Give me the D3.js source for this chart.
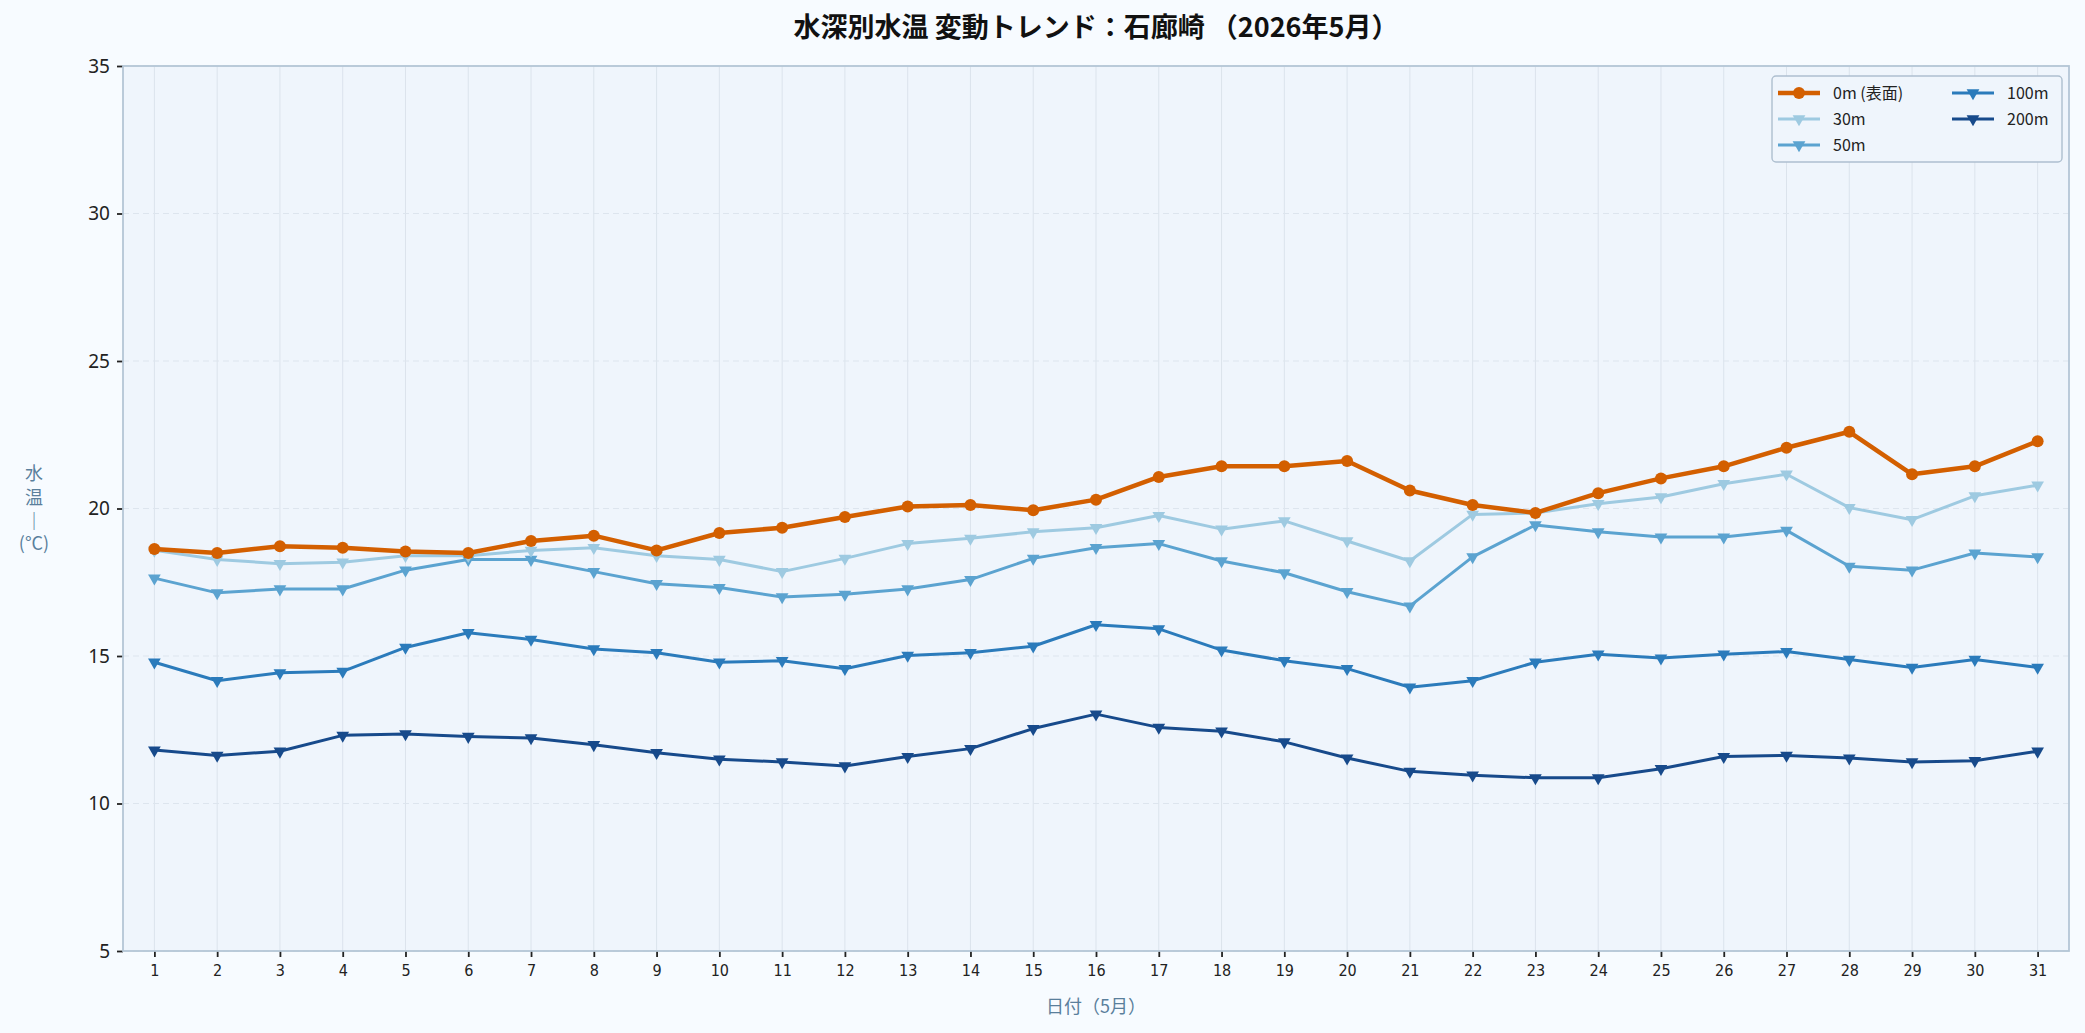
<!DOCTYPE html>
<html>
<head>
<meta charset="utf-8">
<script src="https://cdn.jsdelivr.net/npm/d3@7"></script>
<style>
  body { margin: 0; background: #f7fbff; }
  svg { display: block; }
</style>
</head>
<body>
<div id="chart"></div>
<script>
// data
const days = d3.range(1, 32);
const depthNames = ["0m (表面)", "30m", "50m", "100m", "200m"];
const depthColors = ["#d35f00", "#9ecae1", "#5ba3d0", "#2b7bbb", "#174a8b"];
const yTicks = [5, 10, 15, 20, 25, 30, 35];

const temp0 = [18.63, 18.49, 18.72, 18.67, 18.54, 18.49, 18.90, 19.08, 18.58, 19.17,
    19.35, 19.71, 20.07, 20.12, 19.94, 20.30, 21.07, 21.43, 21.43, 21.61,
    20.61, 20.12, 19.85, 20.52, 21.02, 21.43, 22.06, 22.60, 21.16, 21.43, 22.28];
const temp30 = [18.58, 18.27, 18.13, 18.18, 18.40, 18.40, 18.58, 18.67, 18.40, 18.27,
    17.86, 18.31, 18.81, 18.99, 19.21, 19.35, 19.76, 19.30, 19.58, 18.90,
    18.22, 19.80, 19.85, 20.16, 20.39, 20.84, 21.16, 20.03, 19.62, 20.43, 20.79];
const temp50 = [17.64, 17.14, 17.27, 17.27, 17.91, 18.27, 18.27, 17.86, 17.45, 17.32,
    17.00, 17.09, 17.27, 17.59, 18.31, 18.67, 18.81, 18.22, 17.82, 17.18,
    16.69, 18.36, 19.44, 19.21, 19.03, 19.03, 19.26, 18.04, 17.91, 18.49, 18.36];
const temp100 = [14.79, 14.16, 14.43, 14.48, 15.29, 15.79, 15.56, 15.24, 15.11, 14.79,
    14.84, 14.57, 15.02, 15.11, 15.33, 16.06, 15.92, 15.20, 14.84, 14.57,
    13.94, 14.16, 14.79, 15.06, 14.93, 15.06, 15.15, 14.88, 14.61, 14.88, 14.61];
const temp200 = [11.81, 11.63, 11.77, 12.31, 12.36, 12.27, 12.22, 11.99, 11.72, 11.50,
    11.41, 11.27, 11.59, 11.86, 12.54, 13.03, 12.58, 12.45, 12.09, 11.54,
    11.09, 10.96, 10.87, 10.87, 11.18, 11.59, 11.63, 11.54, 11.41, 11.45, 11.77];

const allTemps = [temp0, temp30, temp50, temp100, temp200];

// layout
const W = 2085, H = 1033;
const margin = {top: 66, right: 16, bottom: 82, left: 123};
const width = W - margin.left - margin.right;
const height = H - margin.top - margin.bottom;
const font = "'Noto Sans CJK JP', 'Noto Sans', sans-serif";

const svg = d3.select("#chart").append("svg")
    .attr("width", W)
    .attr("height", H);

svg.append("rect").attr("width", W).attr("height", H).attr("fill", "#f7fbff");

const g = svg.append("g")
    .attr("transform", "translate(" + margin.left + "," + margin.top + ")");

// plot background
g.append("rect")
    .attr("width", width)
    .attr("height", height)
    .attr("fill", "#eff5fc");

// scales
const x = d3.scaleLinear().domain([0.5, 31.5]).range([0, width]);
const y = d3.scaleLinear().domain([5, 35]).range([height, 0]);

// vertical grid
g.append("g")
    .selectAll("line")
    .data(days)
    .join("line")
    .attr("x1", d => x(d)).attr("x2", d => x(d))
    .attr("y1", 0).attr("y2", height)
    .attr("stroke", "#dbe3ec")
    .attr("stroke-width", 1);

// horizontal grid (dashed)
g.append("g")
    .selectAll("line")
    .data(yTicks)
    .join("line")
    .attr("x1", 0).attr("x2", width)
    .attr("y1", d => y(d)).attr("y2", d => y(d))
    .attr("stroke", "#dde5ee")
    .attr("stroke-width", 1.2)
    .attr("stroke-dasharray", "6,4");

// axes
const xAxis = g.append("g")
    .attr("transform", "translate(0," + height + ")")
    .call(d3.axisBottom(x).tickValues(days).tickFormat(d3.format("d")).tickSize(6).tickPadding(8));
xAxis.selectAll("text")
    .attr("font-family", "'DejaVu Sans Condensed', 'DejaVu Sans', sans-serif")
    .attr("font-stretch", "condensed")
    .attr("font-size", "16px")
    .attr("fill", "#222");

const yAxis = g.append("g")
    .call(d3.axisLeft(y).tickValues(yTicks).tickSize(6).tickPadding(7));
yAxis.selectAll("text")
    .attr("font-family", "'Noto Sans', sans-serif")
    .attr("font-size", "19px")
    .attr("fill", "#222");

[xAxis, yAxis].forEach(a => {
    a.select(".domain").remove();
    a.selectAll(".tick line").attr("stroke", "#222").attr("stroke-width", 1.8);
});

// frame
g.append("rect")
    .attr("width", width)
    .attr("height", height)
    .attr("fill", "none")
    .attr("stroke", "#b4c6d6")
    .attr("stroke-width", 1.8);

// lines
const line = d3.line()
    .x((d, i) => x(days[i]))
    .y(d => y(d));

const triangle = d3.symbol().type(d3.symbolTriangle).size(70);

allTemps.slice().reverse().forEach((vals, ri) => {
    const idx = allTemps.length - 1 - ri;
    const color = depthColors[idx];
    const lw = idx === 0 ? 4.5 : 3;
    g.append("path")
        .datum(vals)
        .attr("d", line)
        .attr("fill", "none")
        .attr("stroke", color)
        .attr("stroke-width", lw)
        .attr("stroke-linejoin", "round");

    if (idx === 0) {
        g.append("g").selectAll("circle")
            .data(vals)
            .join("circle")
            .attr("cx", (d, i) => x(days[i]))
            .attr("cy", d => y(d))
            .attr("r", 6)
            .attr("fill", color);
    } else {
        g.append("g").selectAll("path")
            .data(vals)
            .join("path")
            .attr("d", triangle)
            .attr("transform", (d, i) => "translate(" + x(days[i]) + "," + y(d) + ") rotate(180)")
            .attr("fill", color);
    }
});

// legend
const lx = 1772 - margin.left, ly = 76 - margin.top;
const legend = g.append("g").attr("transform", "translate(" + lx + "," + ly + ")");
legend.append("rect")
    .attr("width", 290)
    .attr("height", 86)
    .attr("rx", 4)
    .attr("fill", "#eff5fc")
    .attr("stroke", "#aebfcf")
    .attr("stroke-width", 1.4);

depthNames.forEach((name, i) => {
    const col = i < 3 ? 0 : 1;
    const row = i < 3 ? i : i - 3;
    const ox = col === 0 ? 6 : 180;
    const oy = 17 + row * 26;
    const item = legend.append("g").attr("transform", "translate(" + ox + "," + oy + ")");
    item.append("line")
        .attr("x1", 0).attr("x2", 42)
        .attr("stroke", depthColors[i])
        .attr("stroke-width", i === 0 ? 4.5 : 3);
    if (i === 0) {
        item.append("circle").attr("cx", 21).attr("r", 6).attr("fill", depthColors[i]);
    } else {
        item.append("path")
            .attr("d", triangle)
            .attr("transform", "translate(21,0) rotate(180)")
            .attr("fill", depthColors[i]);
    }
    item.append("text")
        .attr("x", 55)
        .attr("y", 6)
        .attr("font-family", font)
        .attr("font-size", "16px")
        .attr("fill", "#222")
        .text(name);
});

// title
svg.append("text")
    .attr("x", margin.left + width / 2)
    .attr("y", 37)
    .attr("text-anchor", "middle")
    .attr("font-family", font)
    .attr("font-weight", "bold")
    .attr("font-size", "27px")
    .attr("fill", "#111")
    .text("水深別水温 変動トレンド：石廊崎 （2026年5月）");

// x label
svg.append("text")
    .attr("x", margin.left + width / 2)
    .attr("y", 1013)
    .attr("text-anchor", "middle")
    .attr("font-family", font)
    .attr("font-size", "18px")
    .attr("fill", "#5a7f9c")
    .text("日付（5月）");

// y label, stacked vertically
const yLabelParts = ["水", "温", "｜", "(°C)"];
const yLabelY = [480, 504, 528, 550];
const yl = svg.append("text")
    .attr("text-anchor", "middle")
    .attr("font-family", font)
    .attr("font-size", "18px")
    .attr("fill", "#5a7f9c");
yLabelParts.forEach((t, i) => {
    yl.append("tspan")
        .attr("x", 34)
        .attr("y", yLabelY[i])
        .text(t);
});
</script>
</body>
</html>
